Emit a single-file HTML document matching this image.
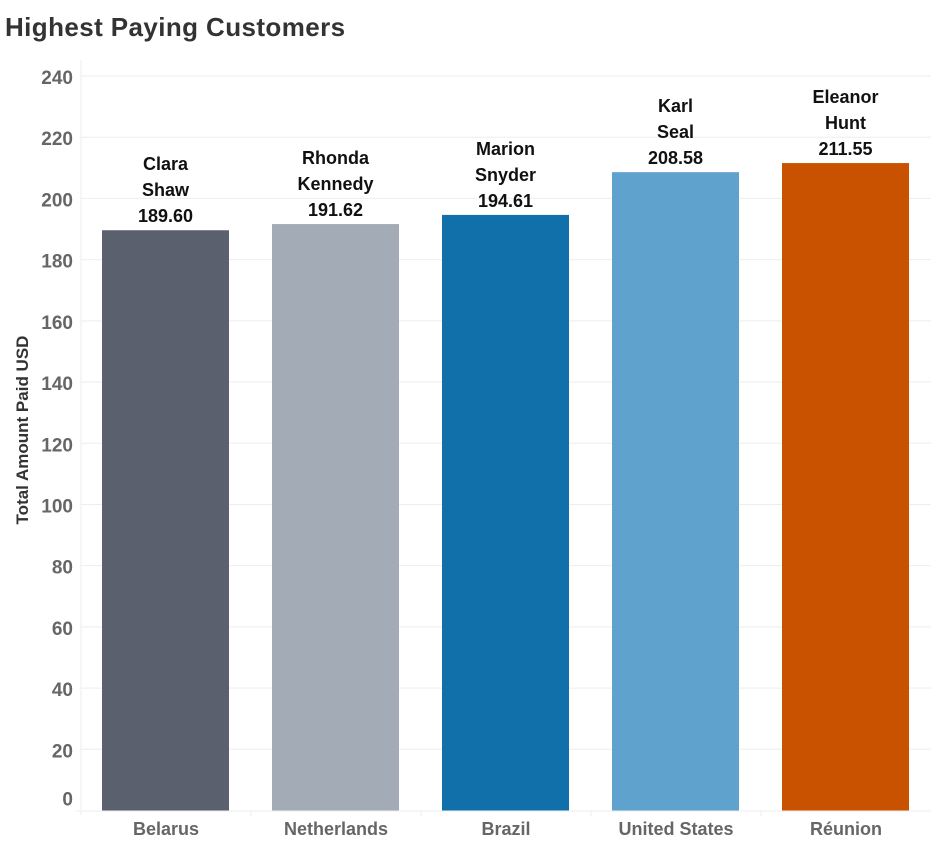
<!DOCTYPE html>
<html><head><meta charset="utf-8"><style>
body{margin:0;background:#fff;font-family:"Liberation Sans","DejaVu Sans",sans-serif;}
#wrap{position:relative;width:931px;height:850px;overflow:hidden}
h1{position:absolute;left:5px;top:12px;margin:0;font-size:26px;font-weight:bold;color:#333;letter-spacing:0.4px}
</style></head><body>
<div id="wrap">
<h1>Highest Paying Customers</h1>
<svg id="chart" width="931" height="850" style="position:absolute;left:0;top:0"></svg>
</div>
<script>
const categories=["Belarus","Netherlands","Brazil","United States","Réunion"];
const customers=[["Clara","Shaw"],["Rhonda","Kennedy"],["Marion","Snyder"],["Karl","Seal"],["Eleanor","Hunt"]];
const values=[189.60,191.62,194.61,208.58,211.55];
const colors=["#5a606d","#a2abb6","#1170aa","#5fa2ce","#c85200"];
const ticks=[0,20,40,60,80,100,120,140,160,180,200,220,240];
const NS="http://www.w3.org/2000/svg";
const svg=document.getElementById("chart");
const y0=810.5,yTop=76,vmax=240;
const y=v=>y0-(v/vmax)*(y0-yTop);
const labelY=v=>v===0?y0-12:y(v)+1;
const plotL=81,band=170;
const x=i=>plotL+band*i;
function mk(t,a){const e=document.createElementNS(NS,t);for(const k in a)e.setAttribute(k,a[k]);svg.appendChild(e);return e;}
ticks.forEach(t=>{
  if(t>0){const g=mk("line",{x1:plotL,x2:931,y1:y(t),y2:y(t),stroke:"#eeeeee","stroke-width":1});
  
  }
  const tx=mk("text",{x:73,y:labelY(t)+7,"text-anchor":"end","font-size":19,"font-weight":"bold",fill:"#666"});
  tx.textContent=t;
  
  
});
const ax=mk("line",{x1:plotL,x2:plotL,y1:60,y2:815,stroke:"#eeeeee"});


const bx=mk("line",{x1:76,x2:931,y1:811,y2:811,stroke:"#eeeeee"});


for(let i=1;i<categories.length;i++){const s=mk("line",{x1:x(i),x2:x(i),y1:811,y2:816,stroke:"#eeeeee"});

}
const yt=mk("text",{x:0,y:0,transform:"translate(28,430) rotate(-90)","text-anchor":"middle","font-size":17,"font-weight":"bold",fill:"#333"});
yt.textContent="Total Amount Paid USD";


values.forEach((v,i)=>{
  const bxl=x(i)+21,w=127;
  const r=mk("rect",{x:bxl,y:y(v),width:w,height:y0-y(v),fill:colors[i]});
  
  
  const cx=bxl+w/2,top=y(v);
  const lines=[customers[i][0],customers[i][1],v.toFixed(2)];
  lines.forEach((s,j)=>{
    const t=mk("text",{x:cx,y:top-8-(2-j)*26,"text-anchor":"middle","font-size":18,"font-weight":"bold",fill:"#111"});
    t.textContent=s;
    
    
  });
  const c=mk("text",{x:x(i)+band/2,y:835,"text-anchor":"middle","font-size":18,"font-weight":"bold",fill:"#666"});
  c.textContent=categories[i];
  
  
});
</script>
</body></html>
